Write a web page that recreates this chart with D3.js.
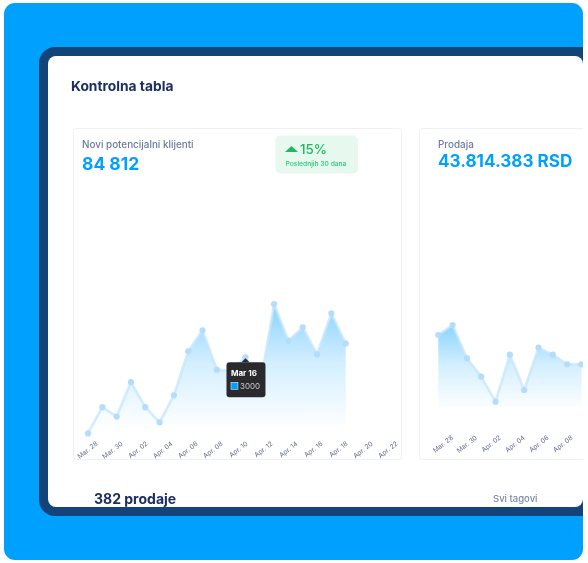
<!DOCTYPE html>
<html><head><meta charset="utf-8">
<script src="https://cdnjs.cloudflare.com/ajax/libs/d3/7.8.5/d3.min.js"></script>
<style>html,body{margin:0;padding:0;background:#fff}svg{display:block}text{font-family:Inter,"Noto Sans",sans-serif}</style>
</head><body><svg id="c" width="588" height="563"></svg>
<script>
const tickLabels = ["Mar. 28","Mar. 30","Apr. 02","Apr. 04","Apr. 06","Apr. 08","Apr. 10","Apr. 12","Apr. 14","Apr. 16","Apr. 18","Apr. 20","Apr. 22"];
const leadsValues = [100,1100,740,2050,1100,520,1550,3230,4030,2530,2480,3000,1880,5030,3630,4140,3110,4680,3530];
const salesValues = [2400,2700,1700,1150,400,1810,750,2020,1810,1520,1520];
const salesTicks = tickLabels.slice(0,6);

const svg = d3.select("#c");
const defs = svg.append("defs");
defs.append("clipPath").attr("id","inner").append("rect").attr("x",48).attr("y",56).attr("width",535).attr("height",451).attr("rx",8);
defs.append("filter").attr("id","soft").attr("x",0).attr("y",0).attr("width",1).attr("height",1)
  .append("feGaussianBlur").attr("stdDeviation",0.3);

svg.append("rect").attr("x",4).attr("y",3).attr("width",579).attr("height",557).attr("rx",11).attr("fill","#00a0ff");
svg.append("path").attr("fill","#12447a").attr("d","M583 47H55a16 16 0 0 0-16 16V500a16 16 0 0 0 16 16H583Z");
const page = svg.append("g").attr("clip-path","url(#inner)").append("g").attr("filter","url(#soft)");
page.append("rect").attr("x",48).attr("y",56).attr("width",535).attr("height",451).attr("fill","#fff");

function label(g,x,y,t,size,weight,fill){
  return g.append("text").attr("x",x).attr("y",y).attr("font-size",size).attr("font-weight",weight).attr("fill",fill).text(t);
}
label(page,71,91,"Kontrolna tabla",13.8,700,"#1a2d63");
label(page,94,504,"382 prodaje",14,700,"#1a2d63");
label(page,493,502,"Svi tagovi",9.5,500,"#7c87a8");

function chart(o){
  const g = page.append("g");
  g.append("rect").attr("x",o.card[0]).attr("y",128.5).attr("width",o.card[1]).attr("height",331).attr("rx",3)
    .attr("fill","#fff").attr("stroke","#eef0f3");
  label(g,o.titleX,148,o.title,9.9,500,"#6e7a9e");
  label(g,o.titleX,o.bigY,o.big,o.bigSize,700,"#00a0ff");

  const y = d3.scaleLinear().domain(o.domain).range(o.yRange);
  const x = d3.scaleLinear().domain([0,18]).range(o.xRange);
  const xt = d3.scalePoint().domain(o.ticks).range(o.tickRange);
  const top = y(d3.max(o.values));
  const grad = defs.append("linearGradient").attr("id",o.id).attr("gradientUnits","userSpaceOnUse")
    .attr("x1",0).attr("x2",0).attr("y1",top).attr("y2",o.yRange[0]);
  grad.append("stop").attr("offset",0).attr("stop-color","#00a0ff").attr("stop-opacity",.46);
  grad.append("stop").attr("offset",.45).attr("stop-color","#00a0ff").attr("stop-opacity",.17);
  grad.append("stop").attr("offset",.95).attr("stop-color","#00a0ff").attr("stop-opacity",0);

  const area = d3.area().x((d,i)=>x(i)).y0(y(0)).y1(d=>y(d));
  const line = d3.line().x((d,i)=>x(i)).y(d=>y(d));
  g.append("path").datum(o.values).attr("d",area).attr("fill",`url(#${o.id})`);
  g.append("path").datum(o.values).attr("d",line).attr("fill","none").attr("stroke","#c4e5ff").attr("stroke-opacity",.75).attr("stroke-width",2.6).attr("stroke-linejoin","round");
  g.selectAll("circle.p").data(o.values).join("circle").attr("class","p").attr("cx",(d,i)=>x(i)).attr("cy",d=>y(d)).attr("r",3.1).attr("fill","#b4dcfd");

  const axis = d3.axisBottom(xt).tickSize(0).tickPadding(0);
  const ax = g.append("g").attr("transform",`translate(0,${o.axisY})`).call(axis);
  ax.select(".domain").remove();
  ax.selectAll("text").attr("transform","rotate(-38)").attr("text-anchor","end").attr("dy","0.3em").attr("dx",0).attr("y",0)
    .attr("font-size",6.6).attr("fill","#5f6b90").attr("font-family","Inter");
  return {x,y};
}

const a = chart({id:"g1",card:[73.5,328],titleX:82,title:"Novi potencijalni klijenti",bigY:170,big:"84 812",bigSize:17.5,
  values:leadsValues,domain:[0,6000],yRange:[436,278.6],xRange:[88,345.7],ticks:tickLabels,tickRange:[96.5,396.5],axisY:443});
chart({id:"g2",card:[419.5,200],titleX:438,title:"Prodaja",bigY:167,big:"43.814.383 RSD",bigSize:17.1,
  values:salesValues,domain:[0,3000],yRange:[415,315],xRange:[438.3,696],ticks:salesTicks,tickRange:[452,571.5],axisY:437});

// badge
const b = page.append("g");
b.append("rect").attr("x",275.5).attr("y",135.5).attr("width",82.5).attr("height",38).attr("rx",5).attr("fill","#e7f8ee");
b.append("path").attr("d",d3.line()([[285,152],[291.5,146],[298,152]])+"Z").attr("fill","#1db964");
label(b,300,154,"15%",13.4,500,"#1db964");
label(b,285.5,166,"Poslednjih 30 dana",6.7,500,"#2dc878");

// tooltip
const tipIndex = 11;
const tx = a.x(tipIndex), ty = a.y(leadsValues[tipIndex]);
const t = page.append("g");
t.append("path").attr("d",d3.line()([[tx-4,ty+5],[tx,ty+1],[tx+4,ty+5]])+"Z").attr("fill","#2b2c2e");
t.append("rect").attr("x",tx-19).attr("y",ty+5).attr("width",39).attr("height",35).attr("rx",3).attr("fill","#2b2c2e");
label(t,tx-14.5,ty+18.5,"Mar 16",8,700,"#fff");
t.append("rect").attr("x",tx-14.5).attr("y",ty+25).attr("width",7).attr("height",7).attr("fill","#00a0ff").attr("stroke","#fff").attr("stroke-width",.5);
label(t,tx-5.5,ty+31.5,"3000",8,400,"#c9c9c9");
</script></body></html>
